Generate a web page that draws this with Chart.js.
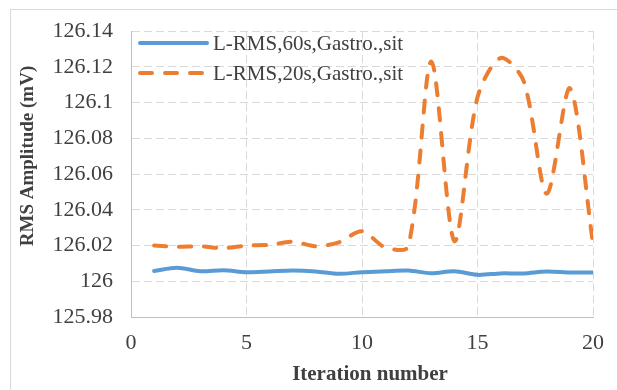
<!DOCTYPE html>
<html>
<head>
<meta charset="utf-8">
<script src="https://cdn.jsdelivr.net/npm/chart.js@4.4.1/dist/chart.umd.min.js"></script>
<style>
  html, body { margin: 0; padding: 0; background: #ffffff; }
  #wrap { position: relative; width: 617px; height: 390px; }
</style>
</head>
<body>
<div id="wrap"><canvas id="chart" width="617" height="390"></canvas></div>
<script>
// Iteration numbers on the x axis
const iterations = [1, 2, 3, 4, 5, 6, 7, 8, 9, 10, 11, 12, 13, 14, 15, 16, 17, 18, 19, 20];

// RMS amplitude (mV), 60 s window
const rms60s = [126.0058, 126.0076, 126.0056, 126.0062, 126.0051, 126.0055, 126.0060, 126.0055, 126.0042, 126.0051,
                126.0056, 126.0060, 126.0045, 126.0056, 126.0036, 126.0044, 126.0044, 126.0055, 126.0049, 126.0049];

// RMS amplitude (mV), 20 s window
const rms20s = [126.0200, 126.0193, 126.0196, 126.0185, 126.0200, 126.0204, 126.0222, 126.0196, 126.0218, 126.0280,
                126.0190, 126.0195, 126.1230, 126.0225, 126.1030, 126.1250, 126.1120, 126.0490, 126.1080, 126.0210];

const seriesNames = ['L-RMS,60s,Gastro.,sit', 'L-RMS,20s,Gastro.,sit'];

// Axis ticks
const yTickValues = [125.98, 126, 126.02, 126.04, 126.06, 126.08, 126.1, 126.12, 126.14];
const yTickLabels = ['125.98', '126', '126.02', '126.04', '126.06', '126.08', '126.1', '126.12', '126.14'];
const xTickValues = [0, 5, 10, 15, 20];
const xTickLabels = ['0', '5', '10', '15', '20'];

const xTitle = 'Iteration number';
const yTitle = 'RMS Amplitude (mV)';

const FONT = '"Liberation Serif", "Times New Roman", serif';
const TEXT = '#404040';
const GRID = '#d9d9d9';

const toPoints = (vals) => iterations.map((x, i) => ({ x: x, y: vals[i] }));

// Outer frame, axis titles and the in-plot legend
const decorations = {
  id: 'decorations',
  beforeDraw(chart) {
    const ctx = chart.ctx;
    ctx.save();
    ctx.fillStyle = '#ffffff';
    ctx.fillRect(0, 0, chart.width, chart.height);
    ctx.strokeStyle = GRID;
    ctx.lineWidth = 1;
    ctx.strokeRect(10.5, 9.5, 700, 500);
    ctx.restore();
  },
  afterDraw(chart) {
    const ctx = chart.ctx;
    const area = chart.chartArea;
    ctx.save();
    ctx.fillStyle = TEXT;
    ctx.textBaseline = 'middle';

    // x axis title
    ctx.font = 'bold 21px ' + FONT;
    ctx.textAlign = 'center';
    ctx.fillText(xTitle, (area.left + area.right) / 2 + 8, 375);

    // y axis title
    ctx.save();
    ctx.translate(28, 156);
    ctx.rotate(-Math.PI / 2);
    ctx.font = 'bold 19px ' + FONT;
    ctx.fillText(yTitle, 0, 0);
    ctx.restore();

    // legend
    ctx.font = '21px ' + FONT;
    ctx.textAlign = 'left';
    chart.data.datasets.forEach((ds, i) => {
      const y = 43 + i * 30;
      ctx.save();
      ctx.strokeStyle = ds.borderColor;
      ctx.lineWidth = ds.borderWidth;
      ctx.lineCap = 'round';
      ctx.setLineDash(ds.borderDash || []);
      ctx.beginPath();
      ctx.moveTo(area.left + 9, y);
      ctx.lineTo(area.left + 76, y);
      ctx.stroke();
      ctx.restore();
      ctx.fillStyle = TEXT;
      ctx.fillText(ds.label, area.left + 82, y + 1);
    });
    ctx.restore();
  }
};

function build() {
  new Chart(document.getElementById('chart'), {
    type: 'line',
    data: {
      datasets: [
        {
          label: seriesNames[0],
          data: toPoints(rms60s),
          borderColor: '#5b9bd5',
          backgroundColor: '#5b9bd5',
          borderWidth: 4,
          borderCapStyle: 'round',
          tension: 0.3,
          pointRadius: 0,
          fill: false
        },
        {
          label: seriesNames[1],
          data: toPoints(rms20s),
          borderColor: '#ed7d31',
          backgroundColor: '#ed7d31',
          borderWidth: 4,
          borderDash: [12, 13],
          borderCapStyle: 'round',
          tension: 0.3,
          pointRadius: 0,
          fill: false
        }
      ]
    },
    options: {
      responsive: false,
      animation: false,
      layout: { padding: { top: 22, right: 20, bottom: 0, left: 0 } },
      plugins: {
        legend: { display: false },
        tooltip: { enabled: false }
      },
      scales: {
        x: {
          type: 'linear',
          min: 0,
          max: 20,
          afterBuildTicks: (s) => { s.ticks = xTickValues.map(v => ({ value: v })); },
          afterFit: (s) => { s.height = 73; },
          ticks: {
            padding: 13,
            color: TEXT,
            font: { family: FONT, size: 22 },
            maxRotation: 0,
            callback: (v) => xTickLabels[xTickValues.indexOf(v)]
          },
          grid: { color: GRID, lineWidth: 1, drawTicks: false },
          border: { display: true, color: '#bfbfbf', width: 1, dash: [8, 4] }
        },
        y: {
          type: 'linear',
          min: 125.98,
          max: 126.14,
          afterBuildTicks: (s) => { s.ticks = yTickValues.map(v => ({ value: v })); },
          afterFit: (s) => { s.width = 131; },
          ticks: {
            padding: 18,
            color: TEXT,
            font: { family: FONT, size: 22 },
            callback: (v) => yTickLabels[Math.round((v - yTickValues[0]) / 0.02)]
          },
          grid: { color: GRID, lineWidth: 1, drawTicks: false },
          border: { display: true, color: '#bfbfbf', width: 1, dash: [8, 4] }
        }
      }
    },
    plugins: [decorations]
  });
}

// Make sure the serif faces are ready before the canvas is painted
Promise.all([
  document.fonts.load('22px "Liberation Serif"'),
  document.fonts.load('bold 21px "Liberation Serif"')
]).then(build, build);
</script>
</body>
</html>
